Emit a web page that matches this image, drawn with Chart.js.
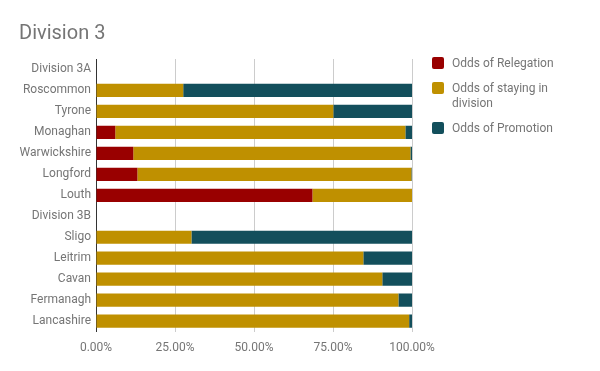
<!DOCTYPE html>
<html>
<head>
<meta charset="utf-8">
<script src="https://cdn.jsdelivr.net/npm/chart.js@4"></script>
<style>
  html, body { margin: 0; padding: 0; background: #fff; }
  #wrap { position: relative; width: 600px; height: 371px; }
  #title { position: absolute; left: 19px; top: 20px; font-family: Roboto, sans-serif;
           font-size: 20px; line-height: 24px; color: #757575; }
  #legend { position: absolute; left: 432px; top: 56px; width: 130px;
            font-family: Roboto, sans-serif; font-size: 12px; color: #757575; }
  #legend .item { position: relative; padding-left: 20px; margin-bottom: 10px; line-height: 15px; }
  #legend .box { position: absolute; left: 0; top: 1px; width: 12px; height: 12px; border-radius: 2px; }
</style>
</head>
<body>
<div id="wrap">
  <canvas id="chart" width="600" height="371"></canvas>
  <div id="title">Division 3</div>
  <div id="legend"></div>
</div>
<script>
const teams = ['Division 3A', 'Roscommon', 'Tyrone', 'Monaghan', 'Warwickshire', 'Longford', 'Louth',
               'Division 3B', 'Sligo', 'Leitrim', 'Cavan', 'Fermanagh', 'Lancashire'];
const relegation = [null, 0, 0, 6.1, 11.8, 13.1, 68.5, null, 0, 0, 0, 0, 0];
const staying    = [null, 27.6, 75.1, 91.8, 87.7, 86.7, 31.5, null, 30.2, 84.6, 90.6, 95.7, 99.1];
const promotion  = [null, 72.4, 24.9, 2.1, 0.5, 0.2, 0, null, 69.8, 15.4, 9.4, 4.3, 0.9];
const xTicks = [0, 25, 50, 75, 100];

const seriesNames = ['Odds of Relegation', 'Odds of staying in division', 'Odds of Promotion'];
const seriesColors = ['#990000', '#bf9000', '#134f5c'];

const grey = '#757575';
Chart.defaults.font.family = 'Roboto, sans-serif';

const chart = new Chart(document.getElementById('chart'), {
  type: 'bar',
  data: {
    labels: teams,
    datasets: [relegation, staying, promotion].map((d, i) => ({
      label: seriesNames[i],
      data: d,
      backgroundColor: seriesColors[i],
      borderWidth: 0,
      barPercentage: 0.63,
      categoryPercentage: 1
    }))
  },
  options: {
    indexAxis: 'y',
    responsive: false,
    animation: false,
    layout: { padding: { left: 0, top: 59, right: 188, bottom: 7 } },
    plugins: {
      legend: { display: false },
      tooltip: { enabled: false }
    },
    scales: {
      x: {
        stacked: true,
        min: 0,
        max: 100,
        afterBuildTicks: s => { s.ticks = xTicks.map(v => ({ value: v })); },
        ticks: {
          color: grey,
          font: { size: 12 },
          padding: 9,
          callback: v => v.toFixed(2) + '%'
        },
        grid: { color: '#cccccc', drawTicks: false },
        border: { display: false }
      },
      y: {
        stacked: true,
        afterFit: s => { s.width = 96; },
        ticks: { color: grey, font: { size: 12 }, padding: 5 },
        grid: { display: false, drawTicks: false },
        border: { display: true, color: '#333333', width: 1 }
      }
    }
  }
});

// HTML legend so the long label can wrap like the original
const legend = document.getElementById('legend');
chart.data.datasets.forEach(ds => {
  const item = document.createElement('div');
  item.className = 'item';
  item.innerHTML = '<span class="box" style="background:' + ds.backgroundColor + '"></span>' + ds.label;
  legend.appendChild(item);
});
</script>
</body>
</html>
